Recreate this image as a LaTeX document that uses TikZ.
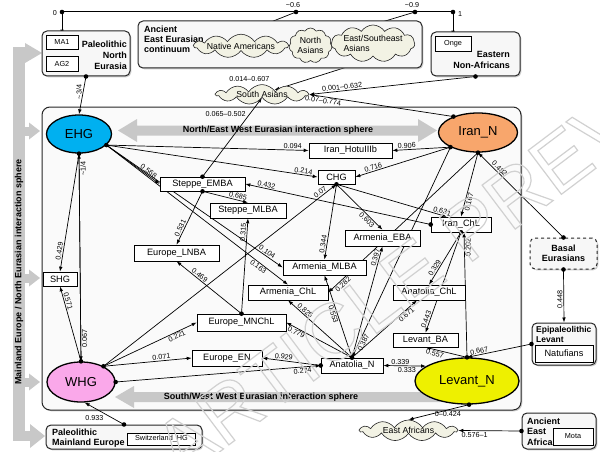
\documentclass[tikz,border=0pt]{standalone}
\usepackage{fontspec}
\setmainfont{Liberation Sans}
\usetikzlibrary{arrows.meta,shapes.geometric,shapes.symbols,calc,shadows}
\pgfdeclarelayer{bg}
\pgfdeclarelayer{edges}
\pgfdeclarelayer{top}
\pgfsetlayers{bg,edges,main,top}
\definecolor{ehgc}{RGB}{0,176,240}
\definecolor{irnc}{RGB}{248,166,108}
\definecolor{whgc}{RGB}{250,168,234}
\definecolor{levc}{RGB}{238,240,0}
\definecolor{cloudc}{RGB}{242,242,228}
\definecolor{barc}{RGB}{200,200,200}
\definecolor{grpc}{RGB}{247,247,247}
\definecolor{wec}{RGB}{250,250,250}
\tikzset{
  box/.style={draw=black, line width=0.6pt, fill=white, inner sep=0pt, font=\fontsize{9.2}{10}\selectfont},
  sbox/.style={box, font=\fontsize{7.3}{8}\selectfont},
  ell/.style={ellipse, draw=black, line width=1.3pt, inner sep=0pt, font=\fontsize{13}{14}\selectfont},
  grp/.style={draw=black!85, line width=1pt, rounded corners=5pt, fill=grpc, drop shadow={shadow xshift=1.3pt, shadow yshift=-1.3pt, fill=black!40}},
  cld/.style={cloud, cloud puffs=11, cloud puff arc=115, cloud ignores aspect, draw=black!85, line width=0.6pt, fill=cloudc, inner sep=0pt, font=\fontsize{8.7}{9.5}\selectfont},
  bl/.style={font=\bfseries\fontsize{9}{11}\selectfont, inner sep=0pt},
  bls/.style={font=\bfseries\fontsize{9}{10}\selectfont, inner sep=0pt},
  lab/.style={font=\fontsize{7.2}{8}\selectfont, inner sep=1pt},
  edge/.style={draw=black, line width=0.7pt, -{Latex[length=5pt,width=3.6pt]}},
}
\begin{document}
\begin{tikzpicture}[x=1pt,y=-1pt]
\useasboundingbox (0,0) rectangle (600,452);

% background: big box and grey interaction arrows
\begin{pgfonlayer}{bg}
\node[draw=black!85, line width=1pt, rounded corners=8pt, fill=wec, minimum width=479pt, minimum height=303pt, drop shadow={shadow xshift=1.3pt, shadow yshift=-1.3pt, fill=black!40}] (WE) at (281.5,258.5) {};
\fill[barc] (118,130.5) -- (137,119) -- (137,125.5) -- (418,125.5) -- (418,119) -- (437,130.5) -- (418,142) -- (418,135.5) -- (137,135.5) -- (137,142) -- cycle;
\node[bl] (NEtxt) at (278,130.5) {North/East West Eurasian interaction sphere};
\fill[barc] (115,397) -- (134,386) -- (134,392) -- (440,392) -- (440,402) -- (134,402) -- (134,408) -- cycle;
\node[bl] (SWtxt) at (261,397) {South/West West Eurasian interaction sphere};
\fill[barc] (13,47) rectangle (25,441);
\fill[barc] (25,43) -- (42,53) -- (25,63) -- cycle;
\foreach \yy in {131,278,382} {
  \fill[barc] (24,\yy-4.5) rectangle (29,\yy+4.5);
  \fill[barc] (29,\yy-8.5) -- (40,\yy) -- (29,\yy+8.5) -- cycle;
}
\fill[barc] (13,431) rectangle (30,441);
\fill[barc] (30,424) -- (45,436) -- (30,448) -- cycle;
\node[bl, rotate=90] (Vtxt) at (19,272) {Mainland Europe / North Eurasian interaction sphere};
\end{pgfonlayer}

% top tree coordinates
\coordinate (T0) at (62,12);
\coordinate (T6) at (296,12);
\coordinate (T9) at (415,12);
\coordinate (T1) at (453,12);
\node[lab] (l0) at (55,13.5) {0};
\node[lab] (l06) at (293,5.5) {\textasciitilde0.6};
\node[lab] (l09) at (412,5.5) {\textasciitilde0.9};
\node[lab] (l1) at (460,14.5) {1};

% Paleolithic North Eurasia
\node[grp, minimum width=88pt, minimum height=45pt] (PNE) at (86,53.5) {};
\node[sbox, minimum width=32pt, minimum height=14pt] (MA1) at (62,42) {MA1};
\node[sbox, minimum width=32pt, minimum height=15pt] (AG2) at (62,63.5) {AG2};
\node[bl, align=right, anchor=east] (PNEt) at (127,55) {Paleolithic\\North\\Eurasia};

% Ancient East Eurasian continuum
\node[grp, minimum width=284pt, minimum height=47pt] (AEE) at (280,44.5) {};
\node[bls, align=left, anchor=west] (AEEt) at (144,39.5) {Ancient\\East Eurasian\\continuum};
\node[cld, minimum width=92pt, minimum height=22pt] (NatAm) at (241,46) {Native Americans};
\node[cld, minimum width=43pt, minimum height=35pt, align=center] (NAs) at (310.5,45.5) {North\\Asians};
\node[cld, minimum width=66pt, minimum height=37pt, align=left] (ESEA) at (373,43.5) {East/Southeast\\Asians};

% Eastern Non-Africans
\node[grp, minimum width=89pt, minimum height=44pt] (ENA) at (475.5,54) {};
\node[sbox, minimum width=36pt, minimum height=15pt] (Onge) at (453,43.5) {Onge};
\node[bl, align=right, anchor=east] (ENAt) at (510,59.5) {Eastern\\Non-Africans};

\node[cld, minimum width=92pt, minimum height=19pt] (SAs) at (262,94.5) {South Asians};

% ellipses
\node[ell, fill=ehgc, minimum width=65pt, minimum height=38pt] (EHG) at (79,134) {EHG};
\node[ell, fill=irnc, minimum width=79pt, minimum height=39pt] (IranN) at (478,132.5) {Iran\_N};
\node[ell, fill=whgc, minimum width=68pt, minimum height=40pt] (WHG) at (81,382) {WHG};
\node[ell, fill=levc, minimum width=104pt, minimum height=46pt] (LevN) at (467,381) {Levant\_N};

% population boxes
\node[box, minimum width=83pt, minimum height=15pt] (Hotu) at (350.5,150.5) {Iran\_HotuIIIb};
\node[box, minimum width=37pt, minimum height=14pt] (CHG) at (336.5,177) {CHG};
\node[box, minimum width=60pt, minimum height=15pt] (IranChL) at (461,224.5) {Iran\_ChL};
\node[box, minimum width=85pt, minimum height=14pt] (SEMBA) at (202.5,184) {Steppe\_EMBA};
\node[box, minimum width=76pt, minimum height=15pt] (SMLBA) at (248,210.5) {Steppe\_MLBA};
\node[box, minimum width=85pt, minimum height=16pt] (ELNBA) at (176.5,253) {Europe\_LNBA};
\node[box, minimum width=34pt, minimum height=14pt] (SHG) at (60,279) {SHG};
\node[box, minimum width=75pt, minimum height=16pt] (AEBA) at (382.5,238) {Armenia\_EBA};
\node[box, minimum width=83pt, minimum height=15pt] (AMLBA) at (324.5,267.5) {Armenia\_MLBA};
\node[box, minimum width=80pt, minimum height=15pt] (AChL) at (288,292.5) {Armenia\_ChL};
\node[box, minimum width=72pt, minimum height=15pt] (AnChL) at (429,292.5) {Anatolia\_ChL};
\node[box, minimum width=89pt, minimum height=17pt] (EMN) at (241.5,322.5) {Europe\_MNChL};
\node[box, minimum width=65pt, minimum height=14pt] (LBA) at (425.5,340) {Levant\_BA};
\node[box, minimum width=70pt, minimum height=16pt] (EEN) at (227,358) {Europe\_EN};
\node[box, minimum width=62pt, minimum height=15pt] (AnN) at (352,365.5) {Anatolia\_N};

% right-hand groups
\node[grp, dashed, minimum width=67pt, minimum height=31pt, align=center, bls] (Basal) at (563.5,253.5) {Basal\\Eurasians};
\node[grp, minimum width=64pt, minimum height=42pt] (Epi) at (564,344) {};
\node[font=\bfseries\fontsize{8.5}{10}\selectfont, inner sep=0pt, align=left, anchor=west] (Epit) at (536,334) {Epipaleolithic\\Levant};
\node[box, minimum width=58pt, minimum height=17pt] (Natuf) at (564,353.5) {Natufians};

% bottom groups
\node[grp, minimum width=156pt, minimum height=24pt] (PME) at (124,437) {};
\node[bls, align=left, anchor=west] (PMEt) at (52,438) {Paleolithic\\Mainland Europe};
\node[sbox, minimum width=68pt, minimum height=12pt] (Swiss) at (161.5,439) {Switzerland\_HG};
\node[grp, minimum width=74pt, minimum height=36pt] (AEA) at (559,431) {};
\node[font=\bfseries\fontsize{9}{10.5}\selectfont, inner sep=0pt, align=left, anchor=west] (AEAt) at (527,431.5) {Ancient\\East\\Africa};
\node[sbox, minimum width=40pt, minimum height=17pt] (Mota) at (573,436.5) {Mota};
\node[cld, minimum width=97pt, minimum height=21pt] (EAf) at (408.5,430.5) {East Africans};

% connectors
\begin{pgfonlayer}{edges}
\draw[line width=1pt] (T0) -- (T1);
\draw[edge] (T0) -- (MA1.north);
\draw[edge] (T6) -- (NatAm.north);
\draw[edge] (T9) -- (ESEA.north);
\draw[edge] (T1) -- (Onge.north);
\draw[edge] (PNE.south) -- node[lab, rotate=90, anchor=south, pos=0.41]{\textasciitilde3/4} (EHG.north);
\draw[edge] (EHG.south) -- node[lab, sloped, above, pos=0.83]{0.429} (SHG.north);
\draw[edge] (EHG.south) -- node[lab, rotate=90, anchor=north, pos=0.89]{0.067} (WHG.north);
\draw[edge] (WHG.north) -- node[lab, rotate=90, anchor=north, pos=0.93]{\textasciitilde1/4} (EHG.south);
\draw[edge] (WHG.north) -- node[lab, sloped, above, pos=0.79]{0.571} (SHG.south);
\draw[edge] (EHG.-22) -- node[lab, sloped, above, pos=0.75]{0.568} (SEMBA.west);
\draw[edge] (EHG.-22) -- node[lab, sloped, above, pos=0.92]{0.094} (Hotu.west);
\draw[edge] (EHG.-22) -- node[lab, sloped, above, pos=0.93]{0.214} (CHG.west);
\draw[edge] (EHG.-22) -- node[lab, sloped, above, pos=0.9]{0.104} (AMLBA.west);
\draw[edge] (EHG.-22) -- node[lab, sloped, below, pos=0.85]{0.163} (AChL.north);
\draw[edge] (IranN.208) -- node[lab, sloped, above, pos=0.75]{0.906} (Hotu.east);
\draw[edge] (IranN.208) -- node[lab, sloped, above, pos=0.8]{0.716} (CHG.east);
\draw[edge] (IranN.south) -- node[lab, sloped, below, pos=0.75]{0.167} (IranChL.north);
\draw[edge] (Basal.north) -- node[lab, sloped, above, pos=0.78]{0.482} (IranN.south);
\draw[edge] (IranN.147) -- node[lab, sloped, below, pos=0.9]{0.07–0.774} (SAs.east);
\draw[edge] (ENA.south) -- node[lab, sloped, above, pos=0.8]{0.001–0.632} (SAs.east);
\draw[edge] (ESEA.255) -- node[lab, pos=1, xshift=-25pt, yshift=11pt]{0.014–0.607} (SAs.20);
\draw[edge] (SEMBA.north) -- node[lab, pos=0.8, left=3pt]{0.065–0.502} (SAs.south);
\draw[edge] (IranChL.west) -- node[lab, sloped, above, pos=0.89]{0.432} (SEMBA.east);
\draw[edge] (SEMBA.south) -- node[lab, sloped, above, pos=0.76]{0.685} (SMLBA.north);
\draw[edge] (SEMBA.south) -- node[lab, sloped, above, pos=0.72]{0.531} (ELNBA.north);
\draw[edge] (EMN.north) -- node[lab, sloped, above, pos=0.85]{0.315} (SMLBA.south);
\draw[edge] (EMN.north) -- node[lab, sloped, above, pos=0.68]{0.469} (ELNBA.south);
\draw[edge] (WHG.35) -- node[lab, sloped, below, pos=0.77]{0.221} (EMN.west);
\draw[edge] (WHG.35) -- node[lab, sloped, above, pos=0.66]{0.071} (EEN.west);
\draw[edge] (WHG.35) -- node[lab, sloped, above, pos=0.94]{0.07} (CHG.south);
\draw[edge] (WHG.east) -- node[lab, sloped, below, pos=0.91]{0.274} (AnN.west);
\draw[edge] (AnN.west) -- node[lab, sloped, above, pos=0.64]{0.929} (EEN.east);
\draw[edge] (AnN.north) -- node[lab, sloped, below, pos=0.82]{0.779} (EMN.east);
\draw[edge] (AnN.north) -- node[lab, sloped, above, pos=0.77]{0.825} (AChL.south);
\draw[edge] (AnN.north) -- node[lab, sloped, below, pos=0.54]{0.553} (AMLBA.south);
\draw[edge] (AnN.north) -- node[lab, sloped, above, pos=0.89]{0.397} (AEBA.south);
\draw[edge] (AnN.north) -- node[lab, sloped, below, pos=0.8]{0.671} ($(AnChL.south)+(-12,0)$);
\draw[edge] (IranN.208) -- node[lab, sloped, below, pos=0.92]{0.387} (AnN.north);
\draw[edge] (IranN.south) -- node[lab, sloped, below, pos=0.92]{0.282} (AChL.east);
\draw[edge] (CHG.south) -- node[lab, sloped, above, pos=0.8]{0.344} (AMLBA.north);
\draw[edge] (CHG.south) -- node[lab, sloped, below, pos=0.72]{0.603} (AEBA.north);
\draw[edge] (CHG.south) -- node[lab, sloped, above, pos=0.95]{0.631} ($(IranChL.north west)+(16,0)$);
\draw[edge] (IranChL.south) -- node[lab, sloped, above, pos=0.72]{0.329} (AnChL.north);
\draw[edge] (IranChL.south) -- node[lab, sloped, above, pos=0.88]{0.443} (LBA.north);
\draw[edge] (LevN.north) -- node[lab, rotate=90, anchor=north, pos=0.88]{0.202} ($(IranChL.south)+(3,0)$);
\draw[edge] (LevN.north) -- node[lab, sloped, below, pos=0.75]{0.557} (LBA.south);
\draw[edge] (Epi.west) -- node[lab, sloped, above, pos=0.8]{0.667} (LevN.north);
\draw[edge, {Latex[length=5pt,width=3.6pt]}-{Latex[length=5pt,width=3.6pt]}] (AnN.east) -- node[lab, above, pos=0.4]{0.339} node[lab, below, pos=0.55]{0.333} (LevN.160);
\draw[edge] (Basal.south) -- node[lab, rotate=90, anchor=south, pos=0.57]{0.448} (Epi.north);
\draw[edge] (LevN.-85) -- node[lab, below, pos=0.35]{0–0.424} (EAf.north);
\draw[edge] (AEA.west) -- node[lab, below, pos=0.74]{0.576–1} (EAf.east);
\draw[edge] (PME.north) -- node[lab, below=6pt, pos=0.75]{0.933} (WHG.-80);
\end{pgfonlayer}

% source dots and watermark
\begin{pgfonlayer}{top}
\foreach \p in {T0,T6,T9,T1,PNE.south,ENA.south,EHG.-22,EHG.south,IranN.147,IranN.208,IranN.south,SEMBA.north,SEMBA.south,EMN.north,WHG.north,WHG.35,WHG.east,CHG.south,IranChL.west,IranChL.south,AnN.north,AnN.west,LevN.north,LevN.-85,Basal.north,Basal.south,Epi.west,AEA.west,PME.north}
  \fill (\p) circle[radius=2.3pt];
\node[rotate=37, text=black!18, font=\fontsize{80}{80}\selectfont, inner sep=0pt] (wm) at (455,240) {\special{pdf:literal direct 1 Tr 1.2 w}ARTICLE PREVIEW\special{pdf:literal direct 0 Tr}};
\end{pgfonlayer}
\end{tikzpicture}
\end{document}
